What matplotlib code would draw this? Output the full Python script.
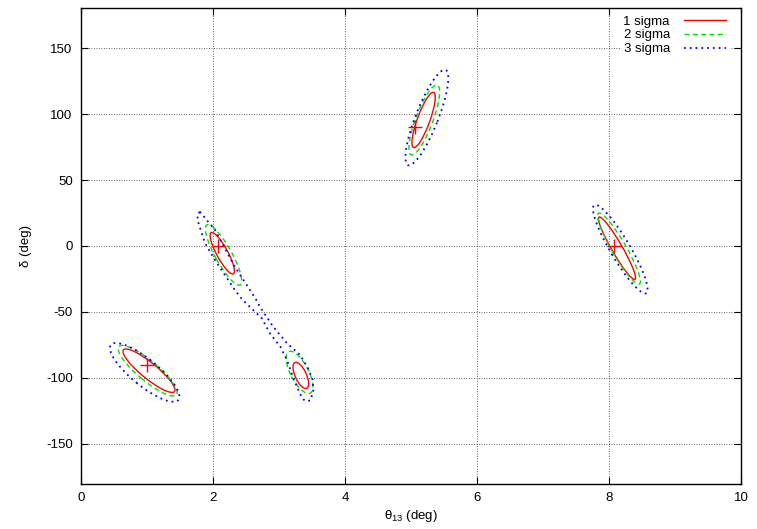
import matplotlib
matplotlib.use("Agg")
import matplotlib.pyplot as plt
from matplotlib.patches import Ellipse, Polygon
from matplotlib.transforms import Affine2D

plt.rcParams['font.family'] = ['Liberation Sans', 'DejaVu Sans']
plt.rcParams['mathtext.default'] = 'regular'
plt.rcParams['font.size'] = 9.5
plt.rcParams['axes.unicode_minus'] = False

# ---- data ----
levels = ['1 sigma', '2 sigma', '3 sigma']
level_colors = ['#ff0000', '#00e000', '#0000ff']

# best-fit points
best_theta = [1.00, 2.08, 5.06, 8.07]
best_delta = [-90, 0, 90, 0]

# elliptical contours: centre (theta, delta), major/minor axis (theta units, delta/50), angle (deg), level index
ell_theta = [5.19, 5.20, 5.24, 2.14, 2.16, 3.33, 3.31, 1.03, 1.01, 0.965, 8.12, 8.15, 8.17]
ell_delta = [95.5, 95.5, 97.3, -5.5, -6.8, -98.1, -95.8, -94.5, -94.5, -95.8, -1.7, -2.0, -2.4]
ell_major = [0.89, 1.13, 1.55, 0.71, 1.04, 0.43, 0.71, 1.00, 1.14, 1.32, 1.09, 1.24, 1.55]
ell_minor = [0.19, 0.26, 0.34, 0.17, 0.25, 0.17, 0.27, 0.24, 0.30, 0.40, 0.16, 0.22, 0.30]
ell_angle = [70, 69.4, 68.5, -61.6, -61, -65.4, -62.5, -39.3, -40, -39.3, -60, -60, -59.5]
ell_level = [0, 1, 2, 0, 1, 0, 1, 0, 1, 2, 0, 1, 2]

# merged 3 sigma contour joining the two solutions near theta=2 and theta=3.3
merged_theta = [1.80, 2.03, 2.18, 2.33, 2.51, 2.65, 2.71, 2.91, 3.12, 3.32, 3.44, 3.51, 3.52, 3.47,
                3.39, 3.34, 3.27, 3.19, 3.12, 3.02, 2.86, 2.74, 2.44, 2.33, 2.18, 2.03, 1.88, 1.78, 1.76]
merged_delta = [26.0, 12.1, -1.7, -15.7, -29.5, -40.4, -46.0, -61.1, -73.7, -82.6, -92.7, -101.5, -110.4, -117.2,
                -117.4, -114.2, -106.6, -96.4, -86.4, -76.3, -66.1, -54.8, -40.4, -33.3, -22.0, -10.6, 2.0, 17.2, 23.5]

x_ticks = [0, 2, 4, 6, 8, 10]
y_ticks = [-150, -100, -50, 0, 50, 100, 150]

# ---- styles ----
styles = [dict(linestyle='-', linewidth=1.0),
          dict(linestyle=(0, (3.5, 2.5)), linewidth=1.0),
          dict(linestyle=(0, (1, 2.2)), linewidth=1.3)]

fig = plt.figure(figsize=(7.57, 5.29), dpi=100)
ax = fig.add_axes([0.107, 0.086, 0.872, 0.898])
ax.set_xlim(0, 10)
ax.set_ylim(-180, 180)

iso = Affine2D().scale(1, 50) + ax.transData

for cx, cy, w, h, a, lv in zip(ell_theta, ell_delta, ell_major, ell_minor, ell_angle, ell_level):
    e = Ellipse((cx, cy / 50.0), w, h, angle=a, transform=iso, fill=False,
                edgecolor=level_colors[lv], zorder=3, **styles[lv])
    ax.add_patch(e)

poly = Polygon(list(zip(merged_theta, merged_delta)), closed=True, fill=False,
               edgecolor=level_colors[2], zorder=3, **styles[2])
ax.add_patch(poly)

ax.plot(best_theta, best_delta, linestyle='none', marker='+', color='#ff0000',
        markersize=10, markeredgewidth=1.0, zorder=4)

for lv in range(3):
    ax.plot([], [], color=level_colors[lv], label=levels[lv], **styles[lv])

ax.set_xticks(x_ticks)
ax.set_yticks(y_ticks)
ax.grid(True, color='#000000', linestyle=(0, (1, 2)), linewidth=0.6, alpha=0.8)
ax.tick_params(direction='in', length=5, width=0.8, top=True, right=True, pad=6)
for s in ax.spines.values():
    s.set_linewidth(1.0)

ax.set_xlabel('θ$_{13}$ (deg)', labelpad=3)
ax.set_ylabel('δ (deg)', labelpad=10)

leg = ax.legend(loc='upper right', bbox_to_anchor=(0.986, 0.998), markerfirst=False, frameon=True,
                framealpha=1.0, edgecolor='none', fancybox=False, handlelength=3.2,
                handletextpad=1.05, labelspacing=0.12, borderpad=0.3, borderaxespad=0.15,
                fontsize=9.5)
leg.get_frame().set_linewidth(0)

fig.savefig('out.png', dpi=100)
